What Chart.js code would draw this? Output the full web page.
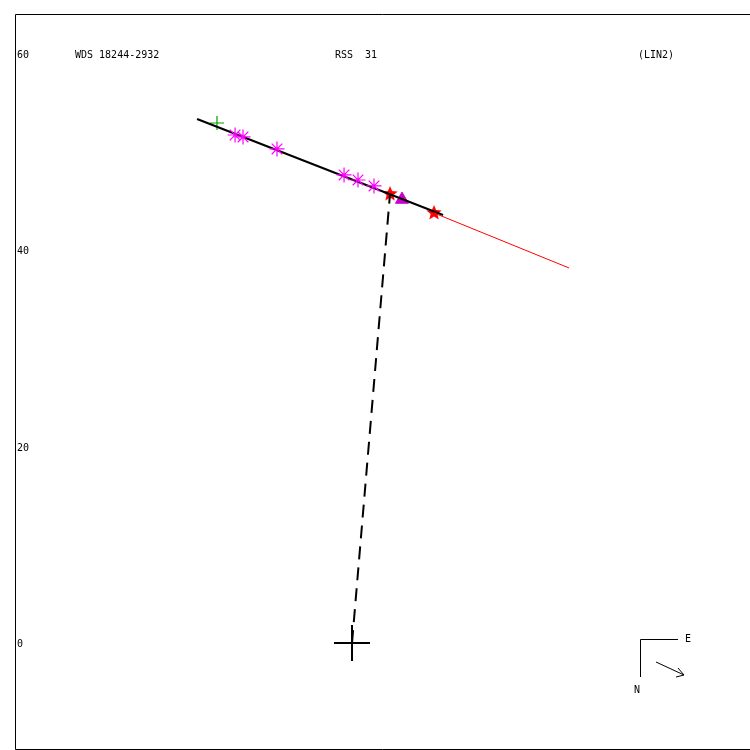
<!DOCTYPE html>
<html>
<head>
<meta charset="utf-8">
<script src="https://cdn.jsdelivr.net/npm/chart.js@4"></script>
<style>
  body { margin: 0; background: #fff; }
  canvas { display: block; }
</style>
</head>
<body>
<canvas id="chart" width="750" height="750"></canvas>
<script>
// y tick labels drawn inside the frame
const yTicks = [0, 20, 40, 60];

// header texts
const titleLeft = "WDS 18244-2932";
const titleMid = "RSS  31";
const titleRight = "(LIN2)";

// primary star at origin
const primaryX = [0];
const primaryY = [0];

// fitted orbit segment (black) and the future part (red)
const orbitX = [-15.78, 9.27];
const orbitY = [53.36, 43.58];
const futureX = [8.35, 22.1];
const futureY = [43.79, 38.19];

// first observation (green +)
const firstX = [-13.75];
const firstY = [52.95];

// other observations (magenta asterisks)
const obsX = [-11.91, -11.1, -7.64, -0.81, 0.61, 2.24];
const obsY = [51.73, 51.53, 50.31, 47.66, 47.15, 46.54];

// ephemeris points (red stars)
const ephX = [3.87, 8.35];
const ephY = [45.72, 43.79];

// last observation (magenta triangle)
const lastX = [5.09];
const lastY = [45.16];

// dashed line primary -> first red star
const sepX = [0, 3.87];
const sepY = [0, 45.72];

function pts(xs, ys) {
  return xs.map((x, i) => ({ x: x, y: ys[i] }));
}

// filled 5-point star image for the red markers
function makeStar(size, color) {
  const c = document.createElement("canvas");
  c.width = size; c.height = size;
  const g = c.getContext("2d");
  const cx = size / 2, cy = size / 2, ro = size / 2, ri = ro * 0.45;
  g.beginPath();
  for (let i = 0; i < 10; i++) {
    const r = i % 2 === 0 ? ro : ri;
    const a = -Math.PI / 2 + i * Math.PI / 5;
    const px = cx + r * Math.cos(a), py = cy + r * Math.sin(a);
    if (i === 0) g.moveTo(px, py); else g.lineTo(px, py);
  }
  g.closePath();
  g.fillStyle = color;
  g.fill();
  return c;
}
const starImg = makeStar(16, "#ff0000");

const decor = {
  id: "decor",
  afterDraw(chart) {
    const ctx = chart.ctx;
    const a = chart.chartArea;
    const ys = chart.scales.y;
    ctx.save();
    ctx.strokeStyle = "#000";
    ctx.lineWidth = 1;
    // frame: left, top, bottom (right side falls off the picture)
    ctx.beginPath();
    ctx.moveTo(a.right, a.top + 0.5);
    ctx.lineTo(a.left + 0.5, a.top + 0.5);
    ctx.lineTo(a.left + 0.5, a.bottom - 0.5);
    ctx.lineTo(a.right, a.bottom - 0.5);
    ctx.stroke();

    ctx.fillStyle = "#000";
    ctx.font = '10px "DejaVu Sans Mono"';
    ctx.textBaseline = "middle";
    ctx.textAlign = "left";
    yTicks.forEach(v => ctx.fillText(String(v), 17, ys.getPixelForValue(v) + 1.5));
    const ty = ys.getPixelForValue(60) + 1.5;
    ctx.fillText(titleLeft, 75, ty);
    ctx.fillText(titleMid, 335, ty);
    ctx.fillText(titleRight, 638, ty);

    // compass
    ctx.beginPath();
    ctx.moveTo(640.5, 677);
    ctx.lineTo(640.5, 639.5);
    ctx.lineTo(678, 639.5);
    ctx.moveTo(656, 662);
    ctx.lineTo(684, 675);
    ctx.moveTo(678, 668);
    ctx.lineTo(684, 675);
    ctx.lineTo(676, 677);
    ctx.stroke();
    ctx.fillText("E", 685, 639);
    ctx.fillText("N", 634, 690);
    ctx.restore();
  }
};

new Chart(document.getElementById("chart"), {
  type: "scatter",
  data: {
    datasets: [
      {
        data: pts(sepX, sepY), showLine: true, borderColor: "#000",
        borderWidth: 2, borderDash: [13, 8], pointRadius: 0
      },
      {
        data: pts(futureX, futureY), showLine: true, borderColor: "#ff0000",
        borderWidth: 1, pointRadius: 0
      },
      {
        data: pts(obsX, obsY), pointStyle: "star", pointRadius: 7.5,
        borderColor: "#ff00ff", borderWidth: 1.2
      },
      {
        data: pts(orbitX, orbitY), showLine: true, borderColor: "#000",
        borderWidth: 2, pointRadius: 0
      },
      {
        data: pts(firstX, firstY), pointStyle: "cross", pointRadius: 7,
        borderColor: "#00a000", borderWidth: 1.2
      },
      {
        data: pts(lastX, lastY), pointStyle: "triangle", pointRadius: 7.5,
        backgroundColor: "#cc00cc", borderColor: "#cc00cc", borderWidth: 1
      },
      {
        data: pts(ephX, ephY), pointStyle: starImg, pointRadius: 8
      },
      {
        data: pts(primaryX, primaryY), pointStyle: "cross", pointRadius: 18,
        borderColor: "#000", borderWidth: 2
      }
    ]
  },
  options: {
    responsive: false,
    animation: false,
    devicePixelRatio: 1,
    layout: { autoPadding: false, padding: { left: 15, top: 14, right: 0, bottom: 0 } },
    plugins: { legend: { display: false }, tooltip: { enabled: false } },
    scales: {
      x: { type: "linear", display: false, min: -34.32, max: 40.53 },
      y: { type: "linear", display: false, min: -10.89, max: 64.05 }
    }
  },
  plugins: [decor]
});
</script>
</body>
</html>
